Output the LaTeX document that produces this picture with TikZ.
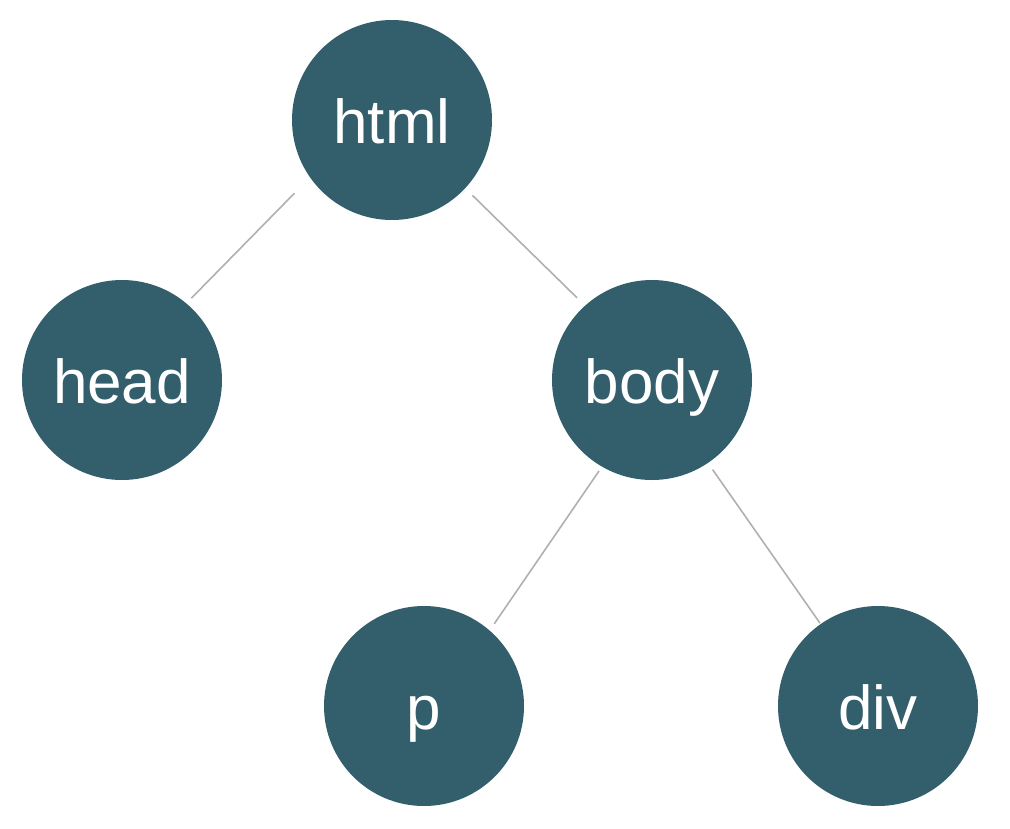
\documentclass[tikz,border=0pt]{standalone}
\usepackage{fontspec}
\setmainfont{Liberation Sans}
\definecolor{teal}{HTML}{335E6B}
\definecolor{edgegray}{HTML}{B0B0B0}
\begin{document}
\begin{tikzpicture}[x=1pt,y=-1pt,
  treenode/.style={circle,fill=teal,draw=none,minimum size=200pt,inner sep=0pt,
    text=white,font=\fontsize{62pt}{62pt}\selectfont,text height=46pt,text depth=0pt},
  edge/.style={draw=edgegray,line width=1.6pt}]
\useasboundingbox (0,0) rectangle (1010,828);
\node[treenode] (html) at (392,120) {html};
\node[treenode] (head) at (122,380) {head};
\node[treenode] (body) at (652,380) {body};
\node[treenode] (p) at (424,706) {p};
\node[treenode] (div) at (878,706) {div};
\draw[edge,shorten <=22pt,shorten >=7pt] (html.215.6) -- (head.50.3);
\draw[edge,shorten <=10pt,shorten >=11pt] (html.317.8) -- (body.132.2);
\draw[edge,shorten <=5pt,shorten >=8pt] (body.240.5) -- (p.49.9);
\draw[edge,shorten <=8pt,shorten >=1pt] (body.304.4) -- (div.125.8);
\end{tikzpicture}
\end{document}
